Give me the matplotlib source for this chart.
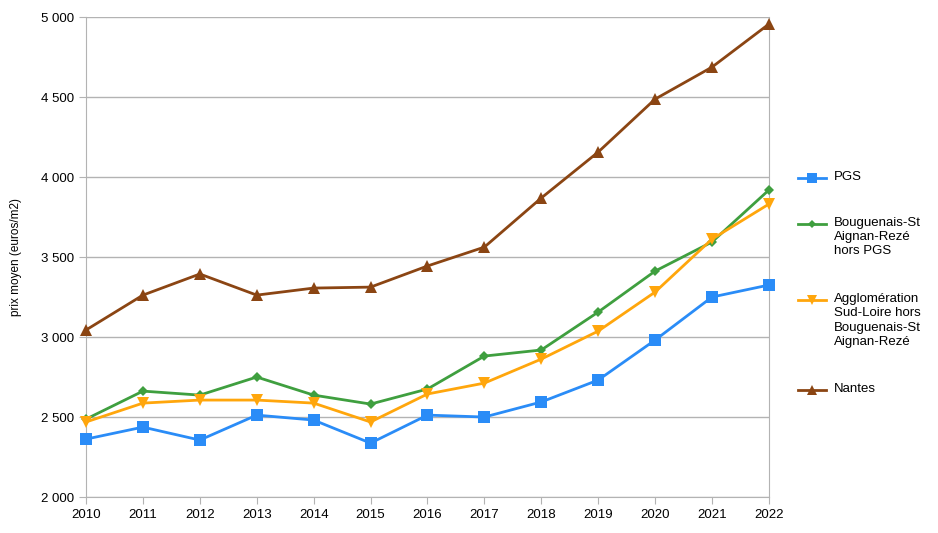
import matplotlib.pyplot as plt
from matplotlib.lines import Line2D
from matplotlib.ticker import FuncFormatter

plt.rcParams['font.family'] = ['Liberation Sans', 'DejaVu Sans']

years = list(range(2010, 2023))

pgs = [2362, 2437, 2356, 2512, 2481, 2337, 2512, 2500, 2594, 2731, 2981, 3250, 3325]
bouguenais = [2487, 2662, 2637, 2750, 2637, 2581, 2675, 2881, 2919, 3156, 3412, 3594, 3919]
agglo = [2469, 2587, 2606, 2606, 2587, 2469, 2644, 2712, 2862, 3037, 3281, 3612, 3831]
nantes = [3044, 3262, 3394, 3262, 3306, 3312, 3444, 3562, 3869, 4156, 4487, 4687, 4956]

labels = ['PGS',
          'Bouguenais-St\nAignan-Rezé\nhors PGS',
          'Agglomération\nSud-Loire hors\nBouguenais-St\nAignan-Rezé',
          'Nantes']
colors = ['#2a8cf7', '#3f9f3f', '#ffa60c', '#8b4513']
markers = ['s', 'D', 'v', '^']
msizes = [8, 5, 8, 8]
series = [pgs, bouguenais, agglo, nantes]

fig = plt.figure(figsize=(9.38, 5.33), dpi=100)
ax = fig.add_axes([0.0917, 0.0675, 0.728, 0.9005])

for vals, c, m, ms in zip(series, colors, markers, msizes):
    ax.plot(years, vals, color=c, marker=m, markersize=ms, linewidth=2,
            markeredgewidth=0, clip_on=False, zorder=3)

ax.set_xlim(2010, 2022)
ax.set_ylim(2000, 5000)
ax.set_xticks(years)
ax.set_yticks(range(2000, 5001, 500))
ax.yaxis.set_major_formatter(FuncFormatter(lambda v, p: f'{int(v):,}'.replace(',', ' ')))
ax.grid(axis='y', color='#b3b3b3', linewidth=1)
ax.grid(axis='x', visible=False)
for s in ax.spines.values():
    s.set_color('#b3b3b3')
ax.spines['top'].set_visible(False)
ax.tick_params(colors='#b3b3b3', labelcolor='black', labelsize=9.5, length=5)
ax.set_axisbelow(True)
ax.set_ylabel('prix moyen (euros/m2)', fontsize=8.5, labelpad=14)

# legend drawn by hand so that the handle sits on the first line of each label
leg_y = [178, 224, 300, 390]
for lab, c, m, ms, y in zip(labels, colors, markers, msizes, leg_y):
    fy = 1 - y / 533
    fig.add_artist(Line2D([798 / 938, 826 / 938], [fy, fy], color=c, linewidth=2,
                          transform=fig.transFigure))
    fig.add_artist(Line2D([812 / 938], [fy], color=c, marker=m, markersize=ms * 0.9,
                          markeredgewidth=0, linestyle='none',
                          transform=fig.transFigure))
    fig.text(834 / 938, fy + 7 / 533, lab, fontsize=9.5, va='top', ha='left',
             linespacing=1.25)

fig.savefig('out.png', dpi=100)
